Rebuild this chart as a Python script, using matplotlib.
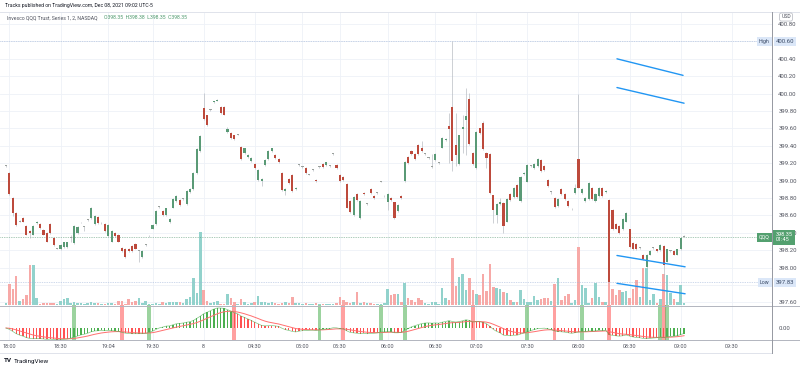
#QQQ 2-minute chart, TradingView style
import numpy as np
import matplotlib
matplotlib.use("Agg")
import matplotlib.pyplot as plt
from matplotlib.lines import Line2D

plt.rcParams['font.family'] = ['Roboto', 'DejaVu Sans']

# OHLC of each 2-minute bar
opens = [399.17, 399.09, 398.80, 398.63, 398.53, 398.57, 398.48, 398.42, 398.38, 398.51,
         398.50, 398.43, 398.40, 398.50, 398.34, 398.22, 398.21, 398.24, 398.24, 398.34,
         398.28, 398.40, 398.52, 398.47, 398.55, 398.57, 398.50, 398.58, 398.51, 398.50,
         398.36, 398.30, 398.40, 398.38, 398.23, 398.22, 398.22, 398.25, 398.27, 398.19,
         398.12, 398.26, 398.36, 398.45, 398.50, 398.70, 398.65, 398.60, 398.52, 398.69,
         398.77, 398.78, 398.79, 398.73, 398.87, 398.90, 399.09, 399.34, 399.84, 399.75,
         399.81, 399.90, 399.92, 399.85, 399.85, 399.56, 399.55, 399.52, 399.53, 399.39,
         399.32, 399.27, 399.23, 399.19, 399.01, 399.00, 399.18, 399.25, 399.34, 399.30,
         399.25, 399.09, 398.88, 399.02, 399.07, 398.90, 399.18, 399.16, 399.15, 399.07,
         399.12, 399.01, 399.16, 399.19, 399.18, 399.17, 399.31, 399.18, 399.07, 399.04,
         398.96, 398.77, 398.60, 398.85, 398.57, 398.86, 398.73, 398.90, 398.82, 398.86,
         398.99, 398.82, 398.75, 398.80, 398.75, 398.65, 398.82, 399.00, 399.27, 399.34,
         399.31, 399.41, 399.38, 399.31, 399.26, 399.16, 399.24, 399.20, 399.38, 399.47,
         399.63, 399.85, 399.41, 399.19, 399.59, 399.70, 399.94, 399.32, 399.14, 399.60,
         399.66, 399.32, 399.31, 398.83, 398.60, 398.73, 398.74, 398.53, 398.85, 398.81,
         398.95, 398.77, 399.08, 398.99, 399.17, 399.14, 399.17, 399.24, 399.17, 399.01,
         398.87, 398.80, 398.71, 398.90, 398.85, 398.77, 398.67, 398.86, 399.25, 398.86,
         398.77, 398.79, 398.92, 398.77, 398.82, 398.92, 398.87, 398.78, 398.66, 398.50,
         398.48, 398.44, 398.53, 398.44, 398.28, 398.27, 398.23, 398.15, 398.01, 398.15,
         398.23, 398.21, 398.20, 398.25, 398.07, 398.19, 398.19, 398.15, 398.21, 398.35]
highs = [399.18, 399.10, 398.81, 398.64, 398.55, 398.58, 398.49, 398.43, 398.49, 398.54,
         398.51, 398.44, 398.41, 398.51, 398.35, 398.23, 398.27, 398.30, 398.30, 398.37,
         398.49, 398.48, 398.53, 398.48, 398.56, 398.70, 398.60, 398.59, 398.52, 398.51,
         398.50, 398.43, 398.41, 398.39, 398.24, 398.23, 398.23, 398.26, 398.28, 398.20,
         398.20, 398.27, 398.37, 398.50, 398.66, 398.71, 398.66, 398.69, 398.57, 398.80,
         398.83, 398.79, 398.80, 398.89, 398.91, 399.10, 399.37, 399.52, 400.01, 399.76,
         399.82, 399.92, 399.94, 399.86, 399.86, 399.62, 399.56, 399.53, 399.54, 399.40,
         399.38, 399.31, 399.27, 399.20, 399.13, 399.03, 399.25, 399.35, 399.38, 399.31,
         399.26, 399.10, 398.91, 399.03, 399.08, 398.93, 399.19, 399.17, 399.16, 399.08,
         399.13, 399.02, 399.17, 399.20, 399.22, 399.18, 399.32, 399.19, 399.08, 399.05,
         398.97, 398.78, 398.82, 398.86, 398.78, 398.87, 398.74, 398.91, 398.83, 398.87,
         399.00, 398.83, 398.86, 398.81, 398.76, 398.73, 398.83, 399.23, 399.28, 399.35,
         399.32, 399.42, 399.46, 399.32, 399.27, 399.31, 399.32, 399.21, 399.50, 399.49,
         399.78, 400.60, 399.78, 399.53, 399.76, 400.06, 400.01, 399.33, 399.57, 399.61,
         399.69, 399.33, 399.32, 398.84, 398.74, 398.80, 398.75, 398.80, 398.86, 398.93,
         398.96, 399.05, 399.10, 399.19, 399.18, 399.20, 399.26, 399.25, 399.18, 399.02,
         398.88, 398.81, 398.80, 398.91, 398.86, 398.78, 398.68, 398.96, 400.00, 398.91,
         398.81, 398.98, 398.93, 398.86, 398.93, 398.93, 398.89, 398.79, 398.67, 398.51,
         398.49, 398.57, 398.64, 398.45, 398.29, 398.28, 398.24, 398.16, 398.16, 398.20,
         398.24, 398.22, 398.27, 398.26, 398.22, 398.20, 398.20, 398.22, 398.35, 398.38]
lows = [399.16, 398.84, 398.59, 398.48, 398.52, 398.52, 398.37, 398.34, 398.37, 398.50,
        398.45, 398.37, 398.29, 398.39, 398.25, 398.21, 398.20, 398.23, 398.23, 398.30,
        398.27, 398.39, 398.51, 398.42, 398.54, 398.56, 398.49, 398.50, 398.50, 398.41,
        398.35, 398.29, 398.35, 398.29, 398.18, 398.11, 398.18, 398.18, 398.21, 398.07,
        398.11, 398.25, 398.35, 398.44, 398.49, 398.69, 398.59, 398.59, 398.51, 398.68,
        398.76, 398.71, 398.78, 398.72, 398.86, 398.89, 399.08, 399.33, 399.70, 399.63,
        399.80, 399.89, 399.91, 399.77, 399.75, 399.55, 399.48, 399.47, 399.52, 399.24,
        399.31, 399.26, 399.22, 399.13, 399.00, 398.94, 399.17, 399.24, 399.33, 399.25,
        399.20, 398.88, 398.84, 398.96, 398.87, 398.89, 399.17, 399.15, 399.08, 399.06,
        399.11, 398.99, 399.15, 399.15, 399.17, 399.16, 399.30, 399.13, 398.99, 399.00,
        398.68, 398.63, 398.59, 398.77, 398.56, 398.84, 398.72, 398.85, 398.79, 398.85,
        398.98, 398.81, 398.66, 398.77, 398.56, 398.64, 398.79, 398.99, 399.19, 399.30,
        399.24, 399.30, 399.33, 399.30, 399.25, 399.15, 399.23, 399.19, 399.37, 399.46,
        399.20, 399.11, 399.17, 399.18, 399.32, 399.29, 399.41, 399.18, 399.13, 399.54,
        399.35, 399.15, 398.85, 398.51, 398.51, 398.72, 398.40, 398.52, 398.77, 398.80,
        398.80, 398.76, 399.07, 398.98, 399.16, 399.13, 399.16, 399.10, 399.11, 398.93,
        398.85, 398.69, 398.70, 398.84, 398.78, 398.70, 398.66, 398.85, 398.91, 398.85,
        398.76, 398.78, 398.78, 398.76, 398.81, 398.81, 398.86, 397.83, 398.43, 398.44,
        398.39, 398.43, 398.52, 398.23, 398.20, 398.20, 398.22, 398.09, 398.00, 398.14,
        398.22, 398.18, 398.19, 397.88, 398.06, 398.18, 398.14, 398.14, 398.20, 398.35]
closes = [399.17, 398.85, 398.63, 398.49, 398.53, 398.53, 398.38, 398.40, 398.48, 398.53,
          398.46, 398.38, 398.30, 398.40, 398.26, 398.22, 398.26, 398.29, 398.29, 398.34,
          398.48, 398.47, 398.52, 398.47, 398.55, 398.69, 398.59, 398.51, 398.51, 398.42,
          398.49, 398.42, 398.36, 398.30, 398.19, 398.12, 398.19, 398.19, 398.22, 398.19,
          398.19, 398.26, 398.36, 398.49, 398.65, 398.70, 398.60, 398.68, 398.56, 398.79,
          398.82, 398.72, 398.79, 398.88, 398.90, 399.09, 399.36, 399.51, 399.71, 399.64,
          399.81, 399.91, 399.93, 399.78, 399.76, 399.59, 399.49, 399.48, 399.53, 399.25,
          399.37, 399.30, 399.26, 399.14, 399.12, 399.02, 399.24, 399.34, 399.37, 399.26,
          399.21, 398.89, 398.90, 398.97, 398.88, 398.92, 399.18, 399.16, 399.09, 399.07,
          399.12, 399.00, 399.16, 399.16, 399.21, 399.17, 399.31, 399.14, 399.00, 399.01,
          398.69, 398.64, 398.81, 398.78, 398.77, 398.85, 398.73, 398.86, 398.80, 398.86,
          398.99, 398.82, 398.85, 398.78, 398.57, 398.72, 398.80, 399.22, 399.20, 399.31,
          399.25, 399.31, 399.34, 399.31, 399.26, 399.16, 399.31, 399.20, 399.49, 399.48,
          399.59, 399.23, 399.29, 399.52, 399.62, 399.74, 399.42, 399.19, 399.56, 399.55,
          399.36, 399.26, 398.86, 398.66, 398.73, 398.75, 398.48, 398.79, 398.78, 398.92,
          398.81, 399.04, 399.09, 399.18, 399.17, 399.19, 399.25, 399.11, 399.12, 398.94,
          398.87, 398.70, 398.79, 398.85, 398.79, 398.71, 398.67, 398.92, 398.92, 398.90,
          398.80, 398.97, 398.79, 398.85, 398.92, 398.82, 398.88, 397.83, 398.44, 398.45,
          398.40, 398.56, 398.63, 398.24, 398.21, 398.21, 398.23, 398.10, 398.15, 398.19,
          398.23, 398.19, 398.26, 398.03, 398.21, 398.19, 398.15, 398.21, 398.34, 398.35]
volumes = [2, 21, 16, 29, 4, 6, 10, 40, 40, 7,
           1, 2, 2, 2, 2, 1, 4, 6, 7, 2,
           3, 2, 2, 1, 2, 3, 2, 2, 1, 1,
           2, 2, 1, 4, 4, 1, 6, 3, 4, 7,
           2, 4, 1, 1, 2, 1, 3, 2, 3, 3,
           3, 3, 2, 6, 8, 27, 12, 73, 15, 4,
           2, 3, 4, 1, 1, 11, 7, 3, 1, 6,
           3, 1, 2, 3, 9, 3, 3, 2, 3, 2,
           1, 2, 3, 2, 8, 2, 2, 1, 2, 1,
           1, 2, 1, 1, 1, 1, 1, 2, 8, 5,
           3, 2, 3, 13, 2, 3, 2, 2, 1, 1,
           1, 2, 16, 10, 11, 11, 3, 22, 7, 5,
           3, 7, 5, 2, 1, 3, 3, 1, 17, 7,
           5, 47, 19, 28, 31, 15, 27, 15, 11, 10,
           31, 14, 41, 18, 17, 16, 13, 12, 5, 3,
           3, 15, 6, 3, 3, 9, 5, 6, 7, 7,
           4, 21, 27, 5, 9, 11, 2, 5, 58, 20,
           17, 2, 7, 22, 8, 3, 3, 23, 16, 10,
           15, 13, 14, 7, 16, 25, 8, 37, 37, 5,
           11, 2, 6, 31, 30, 12, 6, 3, 20, 2]

time_ticks = [1, 16, 30, 43, 58, 73, 87, 98, 112, 126, 138, 153, 168, 183, 198, 213]
time_labels = ['18:00', '18:30', '19:04', '19:30', '8', '04:30', '05:00', '05:30',
               '06:00', '06:30', '07:00', '07:30', '08:00', '08:30', '09:00', '09:30']
price_ticks = [397.6, 397.8, 398.0, 398.2, 398.4, 398.6, 398.8, 399.0, 399.2,
               399.4, 399.6, 399.8, 400.0, 400.2, 400.4, 400.6, 400.8]

# crossover highlights in the indicator pane
signal_bars = [20, 34, 42, 67, 92, 99, 110, 117, 137, 153, 161, 169, 177, 192, 193, 194]
signal_kinds = ['buy', 'sell', 'buy', 'sell', 'buy', 'sell', 'buy', 'buy', 'sell',
                'buy', 'sell', 'buy', 'sell', 'buy', 'sell', 'buy']

# hand drawn trend lines: (bar, price) pairs
trend_lines = [((179.3, 400.40), (198.7, 400.21)),
               ((179.3, 400.07), (199.0, 399.89)),
               ((179.3, 398.14), (199.3, 398.01)),
               ((179.3, 397.82), (199.3, 397.70))]

last_price = 398.35
day_high = 400.60
day_low = 397.83

W, H = 800, 368
UP, DOWN, FLAT = '#5a9a76', '#bd4a3c', '#9aa09c'
VOL_UP, VOL_DOWN = '#92d2cc', '#f7a9a7'
GRID = '#eef1f7'
TEXT = '#50535e'
LINE = '#b2b5be'


def box(x0, y0, x1, y1):
    return [x0 / W, 1 - y1 / H, (x1 - x0) / W, (y1 - y0) / H]


def ema(values, span):
    alpha = 2 / (span + 1)
    out = [values[0]]
    for v in values[1:]:
        out.append(alpha * v + (1 - alpha) * out[-1])
    return np.array(out)


def hline(fig, y, x0=0, x1=W, color=LINE, lw=0.7):
    fig.add_artist(Line2D([x0 / W, x1 / W], [1 - y / H, 1 - y / H],
                          transform=fig.transFigure, color=color, lw=lw))


def main():
    n = len(closes)
    idx = np.arange(n)
    o, h, l, c = map(np.array, (opens, highs, lows, closes))

    fig = plt.figure(figsize=(W / 100, H / 100), dpi=100)
    fig.patch.set_facecolor('white')

    ax = fig.add_axes(box(0, 12, 772, 305))
    ax_ind = fig.add_axes(box(0, 305, 772, 340), sharex=ax)

    ymin, ymax = 397.571, 400.938
    ax.set_xlim(-1.76, 224.8)
    ax.set_ylim(ymin, ymax)

    # grid
    for t in time_ticks:
        ax.axvline(t, color=GRID, lw=0.6, zorder=0)
        ax_ind.axvline(t, color=GRID, lw=0.6, zorder=0)
    for p in price_ticks:
        ax.axhline(p, color=GRID, lw=0.6, zorder=0)

    # volume on an overlay scale at the bottom of the price pane
    vol_unit = (ymax - ymin) / 293
    vol_colors = [VOL_UP if cc >= oo else VOL_DOWN for oo, cc in zip(o, c)]
    ax.bar(idx, np.array(volumes) * vol_unit, bottom=ymin, width=0.75,
           color=vol_colors, zorder=1)

    # reference lines
    ax.axhline(day_high, color='#9fb4d8', lw=0.5, ls=(0, (1, 1.5)), zorder=1)
    ax.axhline(day_low, color='#9fb4d8', lw=0.5, ls=(0, (1, 1.5)), zorder=1)
    ax.axhline(last_price, color=UP, lw=0.5, ls=(0, (1, 1.5)), zorder=1)

    # candles
    body_colors = [UP if cc > oo else DOWN if cc < oo else FLAT for oo, cc in zip(o, c)]
    ax.vlines(idx, l, h, color='#b9bdc4', lw=0.5, zorder=2)
    bottoms = np.minimum(o, c)
    heights = np.maximum(np.abs(c - o), 0.009)
    ax.bar(idx, heights, bottom=bottoms, width=0.62, color=body_colors, zorder=3)

    for (x0, y0), (x1, y1) in trend_lines:
        ax.plot([x0, x1], [y0, y1], color='#2196f3', lw=1.0, zorder=4,
                solid_capstyle='round')

    # scale labels; the ones hidden under the High / Low tags are left out
    covered = (day_high, 397.8)
    ax.yaxis.tick_right()
    ax.set_yticks(price_ticks)
    ax.set_yticklabels(['' if any(abs(p - q) < 0.05 for q in covered) else f'{p:.2f}'
                        for p in price_ticks])
    ax.tick_params(axis='y', length=0, pad=4.5, labelsize=4.3, colors=TEXT)
    ax.tick_params(axis='x', bottom=False, labelbottom=False)
    for s in ax.spines.values():
        s.set_visible(False)

    # price tags on the scale
    tr = ax.get_yaxis_transform()
    tag_blue = dict(boxstyle='square,pad=0.35', fc='#dbe7f8', ec='none')
    ax.text(0.997, day_high, 'High', transform=tr, ha='right', va='center',
            fontsize=3.8, color='#3a4a66', bbox=tag_blue, zorder=6)
    ax.text(1.005, day_high, f'{day_high:.2f}', transform=tr, ha='left', va='center',
            fontsize=4.3, color='#3a4a66', bbox=tag_blue, clip_on=False, zorder=6)
    ax.text(0.997, day_low, 'Low', transform=tr, ha='right', va='center',
            fontsize=3.8, color='#3a4a66', bbox=tag_blue, zorder=6)
    ax.text(1.005, day_low, f'{day_low:.2f}', transform=tr, ha='left', va='center',
            fontsize=4.3, color='#3a4a66', bbox=tag_blue, clip_on=False, zorder=6)
    tag_green = dict(boxstyle='square,pad=0.35', fc='#53a06f', ec='none')
    ax.text(0.997, last_price, 'QQQ', transform=tr, ha='right', va='center',
            fontsize=3.8, color='white', bbox=tag_green, zorder=6)
    ax.text(1.005, last_price, f'{last_price:.2f}\n01:45', transform=tr, ha='left',
            va='center', fontsize=4.0, color='white', linespacing=1.1,
            bbox=dict(boxstyle='square,pad=0.45', fc='#53a06f', ec='none'),
            clip_on=False, zorder=6)

    # MACD style indicator computed from the closes
    macd = ema(c, 12) - ema(c, 26)
    signal = ema(macd, 9)
    top = macd.max() * 23 / 20
    ax_ind.set_ylim(-top * 12 / 23, top)
    for b, kind in zip(signal_bars, signal_kinds):
        ax_ind.axvspan(b - 0.55, b + 0.55, color='#4caf50' if kind == 'buy' else '#ff5252',
                       alpha=0.55, lw=0, zorder=1)
    hist_colors = ['#4caf50' if m >= s else '#ff5252' for m, s in zip(macd, signal)]
    ax_ind.bar(idx, macd, width=0.38, color=hist_colors, zorder=2)
    ax_ind.plot(idx, signal, color='#ff6f6f', lw=0.7, zorder=3)
    ax_ind.plot(idx, macd, color='#4caf50', lw=0.5, alpha=0.7, zorder=3)

    ax_ind.yaxis.tick_right()
    ax_ind.set_yticks([0])
    ax_ind.set_yticklabels(['0.00'])
    ax_ind.tick_params(axis='y', length=0, pad=4.5, labelsize=4.3, colors=TEXT)
    ax_ind.set_xticks(time_ticks)
    ax_ind.set_xticklabels(time_labels)
    ax_ind.tick_params(axis='x', length=0, pad=3.2, labelsize=4.0, colors=TEXT)
    for s in ax_ind.spines.values():
        s.set_visible(False)

    # pane borders
    hline(fig, 12, color='#e0e3eb')
    hline(fig, 305.5, color=LINE)
    hline(fig, 340, color=LINE)
    hline(fig, 352.5, x1=772, color='#e0e3eb')
    fig.add_artist(Line2D([772 / W, 772 / W], [1 - 12 / H, 1 - 353 / H],
                          transform=fig.transFigure, color='#9598a1', lw=0.7))

    # header, legend, currency, logo
    fig.text(5 / W, 1 - 6 / H, 'Tracks published on TradingView.com, Dec 08, 2021 09:02 UTC-5',
             fontsize=3.7, color='#131722', va='center')
    fig.text(7 / W, 1 - 17.5 / H, 'Invesco QQQ Trust, Series 1, 2, NASDAQ',
             fontsize=3.7, color=TEXT, va='center')
    fig.text(104 / W, 1 - 17.5 / H, 'O398.35  H398.38  L398.35  C398.35',
             fontsize=3.7, color='#4f9a6e', va='center')
    fig.text(786 / W, 1 - 17 / H, 'USD', fontsize=3.7, color=TEXT, ha='center', va='center',
             bbox=dict(boxstyle='round,pad=0.3', fc='white', ec='#b2b5be', lw=0.5))
    fig.text(4 / W, 1 - 361 / H, 'TV', fontsize=4.6, weight='bold', color='#131722',
             va='center')
    fig.text(14 / W, 1 - 361 / H, 'TradingView', fontsize=4.6, color='#131722', va='center')

    fig.savefig('out.png', dpi=100, facecolor='white')


if __name__ == "__main__":
    main()
